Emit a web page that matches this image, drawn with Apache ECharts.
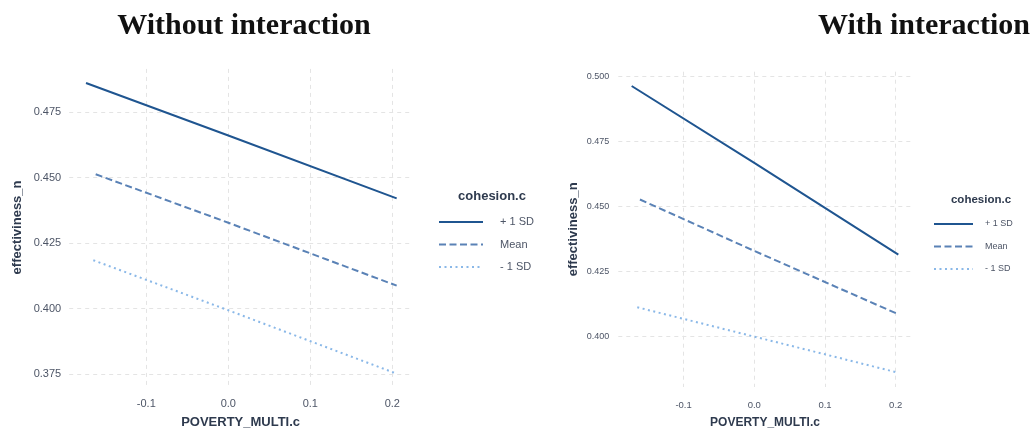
<!DOCTYPE html>
<html><head><meta charset="utf-8">
<script src="https://cdn.jsdelivr.net/npm/echarts@6/dist/echarts.min.js"></script>
<style>html,body{margin:0;padding:0;background:#fff}#c{width:1034px;height:434px}</style>
</head><body><div id="c"></div>
<script>
// ---- data ----
const groupNames = ['+ 1 SD', 'Mean', '- 1 SD'];
const xTicks = [-0.1, 0.0, 0.1, 0.2];
const yTicksLeft = [0.375, 0.400, 0.425, 0.450, 0.475];
const yTicksRight = [0.400, 0.425, 0.450, 0.475, 0.500];

// Without interaction
const xPlusL  = [-0.1735, 0.0, 0.2053];
const yPlusL  = [0.4861, 0.4661, 0.4421];
const xMeanL  = [-0.1617, 0.0, 0.2053];
const yMeanL  = [0.4513, 0.4328, 0.4088];
const xMinusL = [-0.1646, 0.0, 0.2053];
const yMinusL = [0.4185, 0.3994, 0.3752];

// With interaction
const xPlusR  = [-0.1734, 0.0, 0.2037];
const yPlusR  = [0.4964, 0.4668, 0.4315];
const xMeanR  = [-0.1617, 0.0, 0.2037];
const yMeanR  = [0.4527, 0.4329, 0.4085];
const xMinusR = [-0.1655, 0.0, 0.2037];
const yMinusR = [0.4112, 0.3999, 0.3860];

// ---- styling ----
const colors = ['#1f5590', '#5a82b6', '#8ab8e8'];
const dashes = ['solid', [7, 3.5], [2, 3.5]];
const sans = 'Liberation Sans';
const tickColor = '#4d5566';
const titleColor = '#2e3a4e';
const gridStyle = {show: true, lineStyle: {color: '#e4e4e4', type: [4, 4], width: 1}};

const zip = (xs, ys) => xs.map((x, i) => [x, ys[i]]);

function mkSeries(name, xs, ys, idx, axisIdx) {
  return {
    name: name, type: 'line', xAxisIndex: axisIdx, yAxisIndex: axisIdx,
    data: zip(xs, ys), symbol: 'none', silent: true, animation: false,
    lineStyle: {color: colors[idx], width: 2, type: dashes[idx]},
    itemStyle: {color: colors[idx]}
  };
}

const chart = echarts.init(document.getElementById('c'), null, {renderer: 'canvas'});
chart.setOption({
  animation: false,
  title: [
    {text: 'Without interaction', left: 239, top: 6, textAlign: 'center',
     textStyle: {fontFamily: 'Liberation Serif', fontWeight: 'bold', fontSize: 30, color: '#111'}},
    {text: 'With interaction', left: 813, top: 6,
     textStyle: {fontFamily: 'Liberation Serif', fontWeight: 'bold', fontSize: 30, color: '#111'}},
    {text: 'cohesion.c', left: 487, top: 185, textAlign: 'center',
     textStyle: {fontFamily: sans, fontWeight: 'bold', fontSize: 13, color: titleColor}},
    {text: 'cohesion.c', left: 976, top: 189, textAlign: 'center',
     textStyle: {fontFamily: sans, fontWeight: 'bold', fontSize: 11.5, color: titleColor}}
  ],
  legend: [
    {data: groupNames.map(n => ({name: n})), orient: 'vertical', left: 438, top: 215, padding: 0,
     itemWidth: 44, itemHeight: 14, itemGap: 8.5, selectedMode: false,
     itemStyle: {opacity: 0},
     textStyle: {fontFamily: sans, fontSize: 11, lineHeight: 14, color: tickColor, padding: [0, 0, 0, 12]}},
    {data: groupNames.map(n => ({name: n + ' '})), orient: 'vertical', left: 933, top: 217, padding: 0,
     itemWidth: 39, itemHeight: 14, itemGap: 8.5, selectedMode: false,
     itemStyle: {opacity: 0},
     formatter: n => n.trim(),
     textStyle: {fontFamily: sans, fontSize: 9, lineHeight: 14, color: tickColor, padding: [0, 0, 0, 7]}}
  ],
  grid: [
    {left: 69.2, top: 68.9, width: 342.8, height: 319.5},
    {left: 618.3, top: 71.7, width: 293.4, height: 317.6}
  ],
  xAxis: [
    {type: 'value', gridIndex: 0, min: -0.194, max: 0.224,
     axisLine: {show: false}, axisTick: {show: false, customValues: xTicks},
     axisLabel: {customValues: xTicks, formatter: v => v.toFixed(1), fontFamily: sans, fontSize: 11, color: tickColor, margin: 12},
     splitLine: gridStyle,
     name: 'POVERTY_MULTI.c', nameLocation: 'middle', nameGap: 30,
     nameTextStyle: {fontFamily: sans, fontWeight: 'bold', fontSize: 13, color: titleColor}},
    {type: 'value', gridIndex: 1, min: -0.1923, max: 0.2226,
     axisLine: {show: false}, axisTick: {show: false, customValues: xTicks},
     axisLabel: {customValues: xTicks, formatter: v => v.toFixed(1), fontFamily: sans, fontSize: 9.5, color: tickColor, margin: 13},
     splitLine: gridStyle,
     name: 'POVERTY_MULTI.c', nameLocation: 'middle', nameGap: 30,
     nameTextStyle: {fontFamily: sans, fontWeight: 'bold', fontSize: 12, color: titleColor}}
  ],
  yAxis: [
    {type: 'value', gridIndex: 0, min: 0.3705, max: 0.4915,
     axisLine: {show: false}, axisTick: {show: false, customValues: yTicksLeft},
     axisLabel: {customValues: yTicksLeft, formatter: v => v.toFixed(3), fontFamily: sans, fontSize: 11, color: tickColor, margin: 8},
     splitLine: gridStyle,
     name: 'effectiviness_n', nameLocation: 'middle', nameGap: 45,
     nameTextStyle: {fontFamily: sans, fontWeight: 'bold', fontSize: 13, color: titleColor}},
    {type: 'value', gridIndex: 1, min: 0.3805, max: 0.5019,
     axisLine: {show: false}, axisTick: {show: false, customValues: yTicksRight},
     axisLabel: {customValues: yTicksRight, formatter: v => v.toFixed(3), fontFamily: sans, fontSize: 9, color: tickColor, margin: 9},
     splitLine: gridStyle,
     name: 'effectiviness_n', nameLocation: 'middle', nameGap: 38,
     nameTextStyle: {fontFamily: sans, fontWeight: 'bold', fontSize: 13, color: titleColor}}
  ],
  series: [
    mkSeries(groupNames[0], xPlusL, yPlusL, 0, 0),
    mkSeries(groupNames[1], xMeanL, yMeanL, 1, 0),
    mkSeries(groupNames[2], xMinusL, yMinusL, 2, 0),
    mkSeries(groupNames[0] + ' ', xPlusR, yPlusR, 0, 1),
    mkSeries(groupNames[1] + ' ', xMeanR, yMeanR, 1, 1),
    mkSeries(groupNames[2] + ' ', xMinusR, yMinusR, 2, 1)
  ]
});
</script></body></html>
